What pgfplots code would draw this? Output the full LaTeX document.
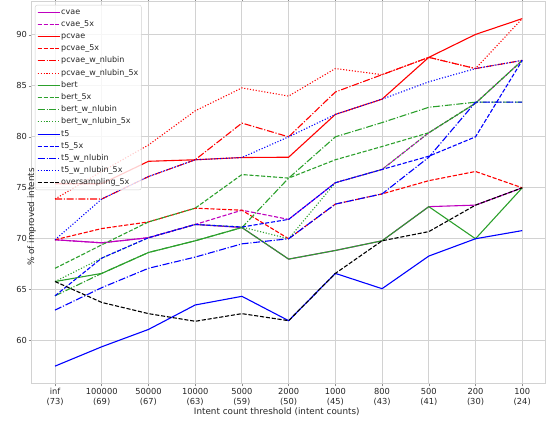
\documentclass[border=0pt]{standalone}
\usepackage{fontspec}
\setmainfont{DejaVu Sans}
\usepackage{pgfplots}
\usepackage{pgfplotstable}
\pgfplotsset{compat=1.18}
\definecolor{mpurple}{rgb}{0.75,0,0.75}
\definecolor{mred}{rgb}{1,0,0}
\definecolor{mgreen}{HTML}{2CA02C}
\definecolor{mblue}{rgb}{0,0,1}
\definecolor{gridc}{HTML}{D2D2D2}
\tikzset{
  mdash/.style={dash pattern=on 4.1pt off 1.8pt},
  mdashdot/.style={dash pattern=on 7pt off 1.8pt on 1.1pt off 1.8pt},
  mdot/.style={dash pattern=on 1.1pt off 1.8pt},
}
% x: 0=inf,1=100000,2=50000,3=10000,4=5000,5=2000,6=1000,7=800,8=500,9=200,10=100
\pgfplotstableread{
x cvae cvaeF pcvae pcvaeF pcvaeN pcvaeNF bert bertF bertN bertNF tf tfF tfN tfNF over
0 69.9 69.9 75.4 69.9 73.9 73.9 65.8 67.1 64.4 65.8 57.5 64.4 63.0 69.9 65.8
1 69.6 69.6 75.4 71.0 73.9 76.6 66.6 69.4 66.6 68.1 59.4 68.1 65.2 73.9 63.75
2 70.1 70.1 77.6 71.65 76.1 79.2 68.65 71.65 68.65 70.1 61.1 70.1 67.1 76.1 62.65
3 71.4 71.4 77.75 73.0 77.75 82.55 69.8 73.0 69.8 71.4 63.5 71.4 68.2 77.75 61.9
4 71.1 72.8 77.97 72.8 81.35 84.8 71.1 76.3 71.1 71.15 64.35 71.15 69.5 77.97 62.65
5 68.0 71.9 78.0 70.0 80.0 84.0 68.0 75.95 75.95 70.0 61.96 71.9 70.0 80.0 61.96
6 68.85 75.5 82.2 73.4 84.4 86.7 68.85 77.75 80.0 75.5 66.6 75.5 73.4 82.2 66.6
7 69.8 76.8 83.7 74.4 86.1 86.1 69.8 79.05 81.4 76.8 65.1 76.8 74.4 83.7 69.8
8 73.15 80.4 87.8 75.7 87.8 87.8 73.15 80.4 82.9 80.4 68.3 78.1 78.0 85.4 70.7
9 73.3 83.3 90.05 76.6 86.7 86.7 70.0 83.3 83.4 83.3 70.0 80.0 83.4 86.7 73.3
10 75.0 87.5 91.6 75.0 87.5 91.6 75.0 87.5 83.4 87.5 70.8 87.5 83.4 87.5 75.0
}\data
\begin{document}
\begin{tikzpicture}
\begin{axis}[
  at={(0,0)}, anchor=south west,
  scale only axis, width=514.4pt, height=382.8pt,
  xmin=-0.5, xmax=10.5, ymin=55.8, ymax=93.33,
  xtick={0,1,2,3,4,5,6,7,8,9,10},
  xticklabels={{inf\\(73)},{100000\\(69)},{50000\\(67)},{10000\\(63)},{5000\\(59)},{2000\\(50)},{1000\\(45)},{800\\(43)},{500\\(41)},{200\\(30)},{100\\(24)}},
  ytick={60,65,70,75,80,85,90},
  /pgf/number format/assume math mode=true,
  grid=major,
  grid style={gridc, line width=1pt},
  axis line style={gridc, line width=0.8pt},
  tick align=outside,
  major tick length=3pt,
  tick style={black!45, line width=0.6pt},
  xticklabel style={font=\fontsize{8.3}{10.4}\selectfont, align=center, inner sep=0pt, anchor=north, yshift=-1.3pt, text=black!85},
  yticklabel style={font=\fontsize{8.3}{10}\selectfont, inner sep=0pt, anchor=east, xshift=-1.5pt, text=black!85},
  xlabel={Intent count threshold (intent counts)},
  ylabel={\% of improved intents},
  xlabel style={font=\fontsize{8.8}{10}\selectfont, at={(axis description cs:0,0)}, anchor=center, xshift=245.3pt, yshift=-28pt, inner sep=0pt, text=black!85},
  ylabel style={font=\fontsize{8.8}{10}\selectfont, at={(axis description cs:0,0.5)}, anchor=center, xshift=-24.7pt, inner sep=0pt, text=black!85},
  every axis plot/.append style={line width=1.1pt, mark=none},
  legend image code/.code={\draw[#1] (0pt,0pt) -- (17.5pt,0pt); \path (0pt,0pt) -- (22pt,0pt);},
  legend cell align=left,
  legend style={at={(axis description cs:0,1)}, anchor=north west, xshift=3.3pt, yshift=-4pt,
    draw=black!18, fill=white, fill opacity=0.8, text opacity=1, rounded corners=2pt,
    font=\fontsize{8}{9.6}\selectfont, inner xsep=2pt, inner ysep=2pt, row sep=2.2pt,
    nodes={inner sep=1pt, text height=6pt, text depth=2pt, text=black!85}},
]
\addplot[mpurple] table[x=x, y=cvae] {\data}; \addlegendentry{cvae}
\addplot[mpurple, mdash] table[x=x, y=cvaeF] {\data}; \addlegendentry{cvae\_5x}
\addplot[mred] table[x=x, y=pcvae] {\data}; \addlegendentry{pcvae}
\addplot[mred, mdash] table[x=x, y=pcvaeF] {\data}; \addlegendentry{pcvae\_5x}
\addplot[mred, mdashdot] table[x=x, y=pcvaeN] {\data}; \addlegendentry{pcvae\_w\_nlubin}
\addplot[mred, mdot] table[x=x, y=pcvaeNF] {\data}; \addlegendentry{pcvae\_w\_nlubin\_5x}
\addplot[mgreen] table[x=x, y=bert] {\data}; \addlegendentry{bert}
\addplot[mgreen, mdash] table[x=x, y=bertF] {\data}; \addlegendentry{bert\_5x}
\addplot[mgreen, mdashdot] table[x=x, y=bertN] {\data}; \addlegendentry{bert\_w\_nlubin}
\addplot[mgreen, mdot] table[x=x, y=bertNF] {\data}; \addlegendentry{bert\_w\_nlubin\_5x}
\addplot[mblue] table[x=x, y=tf] {\data}; \addlegendentry{t5}
\addplot[mblue, mdash] table[x=x, y=tfF] {\data}; \addlegendentry{t5\_5x}
\addplot[mblue, mdashdot] table[x=x, y=tfN] {\data}; \addlegendentry{t5\_w\_nlubin}
\addplot[mblue, mdot] table[x=x, y=tfNF] {\data}; \addlegendentry{t5\_w\_nlubin\_5x}
\addplot[black, mdash] table[x=x, y=over] {\data}; \addlegendentry{oversampling\_5x}
\end{axis}
\pgfresetboundingbox
\path[use as bounding box] (-31.7pt,-37pt) rectangle (514.8pt,383.8pt);
\end{tikzpicture}
\end{document}
